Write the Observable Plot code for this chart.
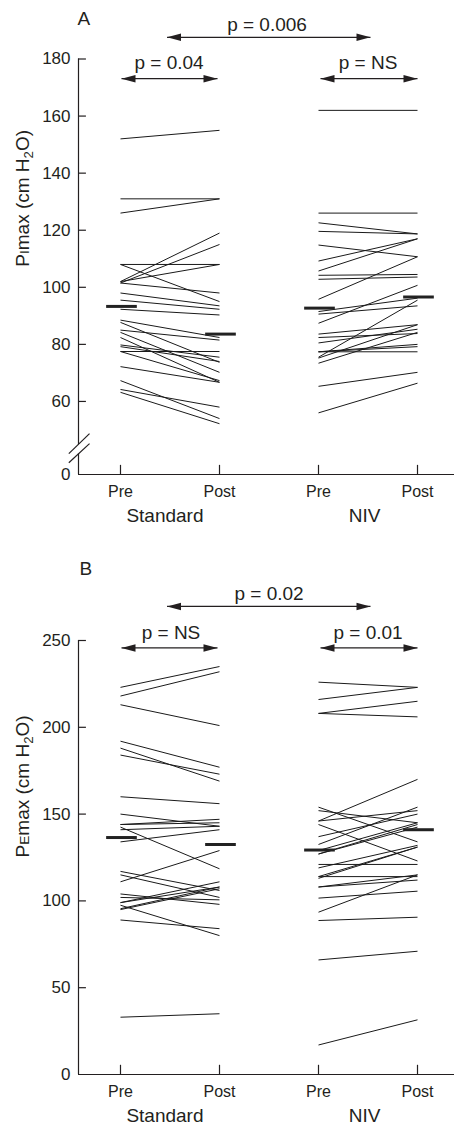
<!DOCTYPE html>
<html><head><meta charset="utf-8">
<script src="https://cdn.jsdelivr.net/npm/d3@7"></script>
<script src="https://cdn.jsdelivr.net/npm/@observablehq/plot@0.6"></script>
<style>
body{margin:0;background:#fff;}
#chart{width:454px;}
#chart svg{display:block;}
</style></head><body><div id="chart"></div>
<script>
// ---------- data ----------
const timeLabels = ["Pre", "Post", "Pre", "Post"];
const groupLabels = ["Standard", "NIV"];

const pimaxTicks = [0, 60, 80, 100, 120, 140, 160, 180];
const pemaxTicks = [0, 50, 100, 150, 200, 250];

const pimaxStdPre  = [152, 131, 126, 108, 108, 102, 101.5, 102, 101.5, 98, 95.5, 92.3, 88.5, 87.7, 85, 84.2, 82.4, 79.8, 79.2, 77.5, 77.5, 72.2, 67.3, 64.2, 63.2];
const pimaxStdPost = [155, 131, 131, 108, 95, 119, 115, 108, 98, 93.5, 92.3, 90.3, 82.4, 73.7, 81.5, 70.2, 66.7, 75.5, 74, 77.5, 67.3, 66.7, 54, 58, 52.2];
const pimaxNivPre  = [162, 126, 122.6, 119.6, 114.8, 109.2, 105.7, 104.2, 102.8, 95.8, 91.5, 90.6, 87.4, 83.6, 82.4, 80.5, 77.4, 77.4, 75.5, 75.2, 73.4, 77.4, 65.3, 56];
const pimaxNivPost = [162, 126, 118.7, 118.7, 110.7, 117, 117, 104.5, 103.6, 110.7, 96.2, 93.5, 100.7, 86.9, 83.8, 85.3, 77.4, 80, 95.5, 86.9, 84.2, 79.2, 70.2, 66.4];
const pimaxMeans = [93.3, 83.6, 92.7, 96.6];

const pemaxStdPre  = [223, 218, 213, 192, 188, 184, 160, 150, 144, 144, 141, 134, 142.5, 117, 115, 111, 104, 102, 99, 99, 95.5, 95, 97.5, 89, 33];
const pemaxStdPost = [235, 232, 201, 177, 169, 173, 156, 143, 147, 145, 143, 141, 118.5, 106, 102, 129, 98, 100.6, 111, 108, 108, 107, 80, 84, 35];
const pemaxNivPre  = [226, 216, 208, 208, 146, 154, 152, 146, 144, 137, 132.5, 129, 127, 127, 121, 119, 114, 113, 114, 108, 108, 101.6, 93.5, 88.7, 66, 17];
const pemaxNivPost = [223, 223, 215, 206, 170, 134, 145, 152, 123, 150, 154, 145, 144, 142.5, 121, 132, 131, 131, 114, 115, 112, 105.6, 115, 90.6, 71, 31.5];
const pemaxMeans = [136.5, 132.5, 129.3, 141];

const pimaxP = ["p = 0.006", "p = 0.04", "p = NS"];
const pemaxP = ["p = 0.02", "p = NS", "p = 0.01"];

// ---------- layout helpers ----------
const X0 = 0.5758, X1 = 4.3737;   // x-domain (frame edges)
const FONT = "'Liberation Sans', Arial, sans-serif";
const INK = "#231f20";

const headR = {draw(ctx) { ctx.moveTo(0, 0); ctx.lineTo(-14, -3.8); ctx.lineTo(-14, 3.8); ctx.closePath(); }};
const headL = {draw(ctx) { ctx.moveTo(0, 0); ctx.lineTo(14, -3.8); ctx.lineTo(14, 3.8); ctx.closePath(); }};

function pairs(pre, post, xa, xb) {
  return pre.map((v, i) => ({x1: xa, x2: xb, y1: v, y2: post[i]}));
}

function panel(cfg) {
  const yMin = cfg.yDomain[0];
  const lines = [
    ...pairs(cfg.stdPre, cfg.stdPost, 1, 2),
    ...pairs(cfg.nivPre, cfg.nivPost, 3, 4)
  ];
  const means = cfg.means.map((m, i) => ({x: i + 1, y: m}));
  const arrows = cfg.arrows; // {xa, xb, y}
  const heads = arrows.flatMap(a => [{x: a.xa, y: a.y, s: "L"}, {x: a.xb, y: a.y, s: "R"}]);
  const labels = cfg.pLabels.map((t, i) => ({t, x: cfg.pLabelPos[i].x, y: cfg.pLabelPos[i].y}));
  // tick at value 0 sits at the foot of the (possibly broken) axis
  const tickRows = cfg.ticks.map(t => ({t, y: Math.max(t, yMin)}));
  const marks = [
    // axis lines
    Plot.ruleY([yMin], {x1: X0, x2: X1, stroke: INK, strokeWidth: 1.2}),
    Plot.ruleX(cfg.axisSegments, {x: X0, y1: "a", y2: "b", stroke: INK, strokeWidth: 1.2}),
    // y ticks (inward)
    Plot.ruleY(tickRows.filter(d => d.y > yMin), {y: "y", x1: X0, x2: X0 + 0.08, stroke: INK, strokeWidth: 1.2}),
    // x ticks (inward)
    Plot.ruleX([1, 2, 3, 4], {x: d => d, y1: yMin, y2: yMin + cfg.xTickLen, stroke: INK, strokeWidth: 1.2}),
    // y tick labels
    Plot.text(tickRows, {x: X0, y: "y", text: d => String(d.t), dx: -8, textAnchor: "end", fontSize: 17, fill: INK}),
    // x tick labels
    Plot.text(timeLabels, {x: (d, i) => i + 1, y: yMin, text: d => d, dy: 17, fontSize: 16, fill: INK}),
    Plot.text(groupLabels, {x: (d, i) => [1.449, 3.465][i], y: yMin, text: d => d, dy: 41, fontSize: 19, fill: INK}),
    // y label
    Plot.text([cfg.yLabel], {frameAnchor: "left", dx: -56, rotate: -90, text: d => d, fontSize: 19, fill: INK}),
    // panel letter
    Plot.text([cfg.letter], {x: cfg.letterPos.x, y: cfg.letterPos.y, text: d => d, fontSize: 19, fill: INK}),
    // individual lines
    Plot.link(lines, {x1: "x1", y1: "y1", x2: "x2", y2: "y2", stroke: "#1a1a1a", strokeWidth: 1}),
    // mean bars
    Plot.ruleY(means, {y: "y", x1: d => d.x - 0.14, x2: d => d.x + 0.17, stroke: "#222", strokeWidth: 3}),
    // arrows
    Plot.link(arrows, {x1: "xa", x2: "xb", y1: "y", y2: "y", stroke: INK, strokeWidth: 1.3}),
    Plot.dot(heads.filter(h => h.s === "L"), {x: "x", y: "y", symbol: headL, fill: INK, stroke: "none", r: 3}),
    Plot.dot(heads.filter(h => h.s === "R"), {x: "x", y: "y", symbol: headR, fill: INK, stroke: "none", r: 3}),
    Plot.text(labels, {x: "x", y: "y", text: "t", fontSize: 19, fill: INK})
  ];
  if (cfg.breakMarks) {
    marks.push(Plot.link(cfg.breakMarks, {x1: "x1", y1: "y1", x2: "x2", y2: "y2", stroke: INK, strokeWidth: 1.2}));
  }
  const svg = Plot.plot({
    width: 454,
    height: cfg.height,
    marginLeft: 78, marginRight: 0,
    marginTop: cfg.marginTop, marginBottom: cfg.marginBottom,
    x: {domain: [X0, X1], axis: null},
    y: {domain: cfg.yDomain, axis: null},
    style: {fontFamily: FONT, background: "#fff", color: INK, overflow: "visible"},
    marks
  });
  // rich y label: small-cap letter and subscript 2
  d3.select(svg).selectAll("text").filter(function() { return this.textContent === cfg.yLabel; })
    .each(function() {
      const t = d3.select(this);
      t.text(null);
      t.append("tspan").text("P");
      t.append("tspan").attr("font-size", "0.72em").text(cfg.yLabelLetter);
      t.append("tspan").text("max (cm H");
      t.append("tspan").attr("font-size", "0.7em").attr("dy", "0.3em").text("2");
      t.append("tspan").attr("dy", "-0.21em").text("O)");
    });
  return svg;
}

// Panel A (PImax): broken axis, the foot of the axis stands for 0
const panelA = panel({
  height: 540, marginTop: 58.5, marginBottom: 66,
  yDomain: [34.4, 180],
  ticks: pimaxTicks,
  stdPre: pimaxStdPre, stdPost: pimaxStdPost, nivPre: pimaxNivPre, nivPost: pimaxNivPost,
  means: pimaxMeans,
  xTickLen: 3.2,
  axisSegments: [{a: 34.4, b: 41.6}, {a: 44.8, b: 180}],
  breakMarks: [{x1: 0.478, y1: 38.5, x2: 0.687, y2: 45.2}, {x1: 0.478, y1: 41.7, x2: 0.687, y2: 48.7}],
  yLabel: "PImax (cm H2O)", yLabelLetter: "I",
  letter: "A", letterPos: {x: 0.63, y: 194.2},
  arrows: [{xa: 1.47, xb: 3.525, y: 187.6}, {xa: 1.01, xb: 1.98, y: 173.1}, {xa: 3.02, xb: 4.0, y: 173.1}],
  pLabels: pimaxP,
  pLabelPos: [{x: 2.48, y: 192.1}, {x: 1.49, y: 178.8}, {x: 3.5, y: 178.8}]
});

// Panel B (PEmax)
const panelB = panel({
  height: 587, marginTop: 100, marginBottom: 53,
  yDomain: [0, 250],
  ticks: pemaxTicks,
  stdPre: pemaxStdPre, stdPost: pemaxStdPost, nivPre: pemaxNivPre, nivPost: pemaxNivPost,
  means: pemaxMeans,
  xTickLen: 5.3,
  axisSegments: [{a: 0, b: 250}],
  yLabel: "PEmax (cm H2O)", yLabelLetter: "E",
  letter: "B", letterPos: {x: 0.65, y: 291.5},
  arrows: [{xa: 1.47, xb: 3.525, y: 269.6}, {xa: 1.01, xb: 1.98, y: 245.7}, {xa: 3.02, xb: 4.0, y: 245.7}],
  pLabels: pemaxP,
  pLabelPos: [{x: 2.5, y: 277.1}, {x: 1.51, y: 254.6}, {x: 3.5, y: 254.6}]
});

document.getElementById("chart").append(panelA, panelB);
</script>
</body></html>
